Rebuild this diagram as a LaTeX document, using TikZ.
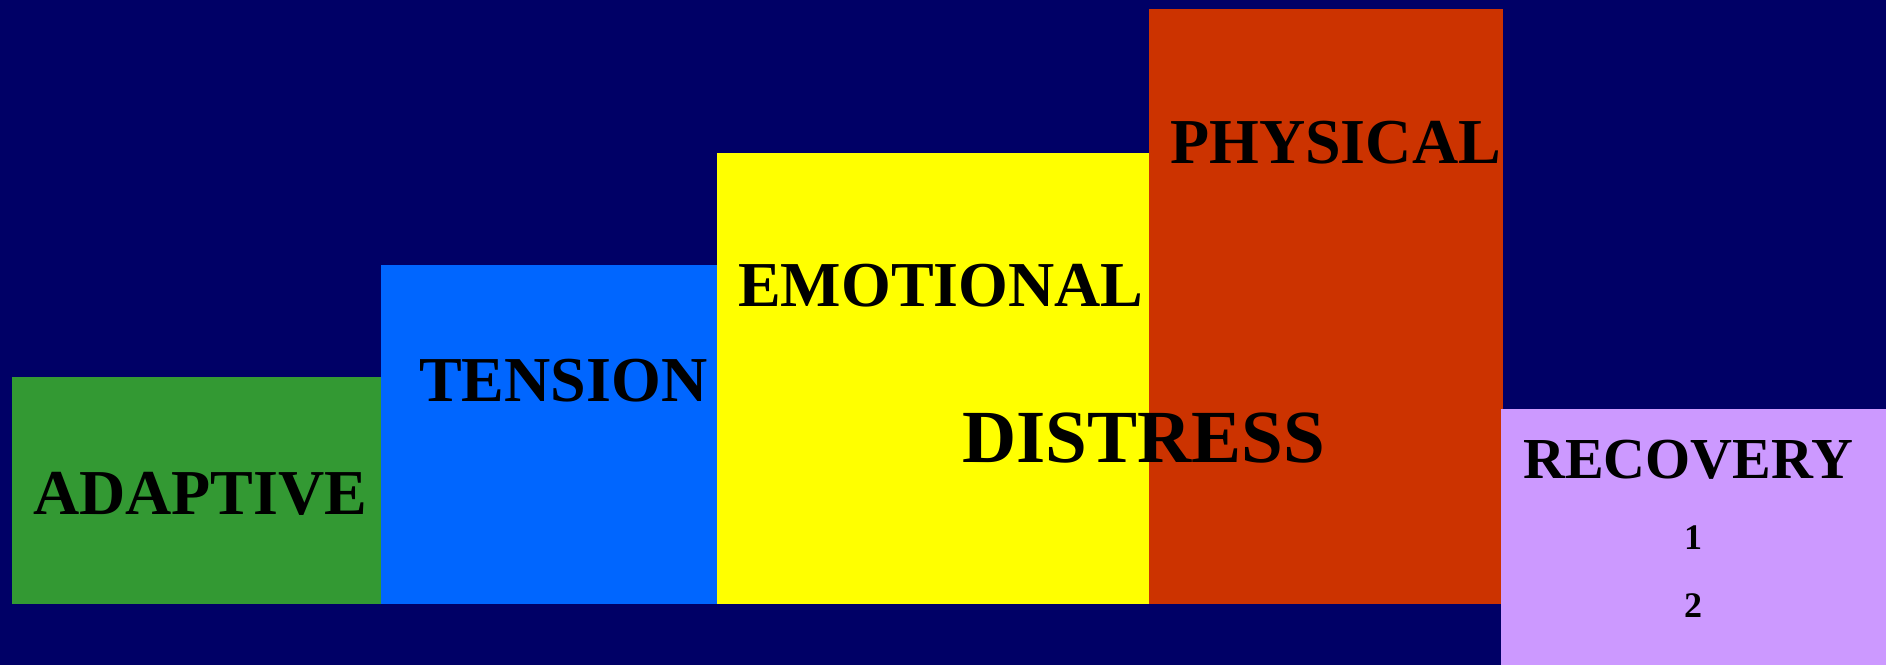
\documentclass[tikz,border=0pt]{standalone}
\usepackage{fontspec}
\setmainfont{Liberation Serif}
\usepackage{xcolor}
\usetikzlibrary{positioning}

\definecolor{bgnavy}{RGB}{0,0,102}
\definecolor{adgreen}{RGB}{51,153,51}
\definecolor{tenblue}{RGB}{0,102,255}
\definecolor{emoyellow}{RGB}{255,255,0}
\definecolor{physred}{RGB}{204,51,0}
\definecolor{reclav}{RGB}{204,153,255}

\tikzset{
  stage/.style={draw=none, inner sep=0pt, anchor=north west},
  word/.style={inner sep=0pt, anchor=base west, text=black, font=\bfseries\fontsize{64}{64}\selectfont},
}

\begin{document}
\begin{tikzpicture}[x=1pt, y=-1pt]
  \useasboundingbox (0,0) rectangle (1895,665);
  \fill[white] (0,0) rectangle (1895,665);
  \fill[bgnavy] (0,0) rectangle (1886,665);

  % the steps
  \node[stage, fill=adgreen, minimum width=369pt, minimum height=227pt] (adaptive) at (12,377) {};
  \node[stage, fill=tenblue, minimum width=339pt, minimum height=339pt] (tension) at (381,265) {};
  \node[stage, fill=emoyellow, minimum width=432pt, minimum height=451pt] (emotional) at (717,153) {};
  \node[stage, fill=physred, minimum width=354pt, minimum height=595pt] (physical) at (1149,9) {};
  \node[stage, fill=reclav, minimum width=385pt, minimum height=256pt] (recovery) at (1501,409) {};

  % labels
  \node[word] (adaptivetxt) at (33,514) {ADAPTIVE};
  \node[word] (tensiontxt) at (419,401) {TENSION};
  \node[word] (emotionaltxt) at (738,306) {EMOTIONAL};
  \node[word] (physicaltxt) at (1170,163) {PHYSICAL};
  \node[word, font=\bfseries\fontsize{75}{75}\selectfont] (distresstxt) at (962,462) {DISTRESS};
  \node[word, font=\bfseries\fontsize{58}{58}\selectfont] (recoverytxt) at (1523,478) {RECOVERY};
  \node[word, anchor=base, font=\bfseries\fontsize{36}{36}\selectfont] (one) at (1693,549) {1};
  \node[word, anchor=base, font=\bfseries\fontsize{36}{36}\selectfont] (two) at (1693,617) {2};
\end{tikzpicture}
\end{document}
